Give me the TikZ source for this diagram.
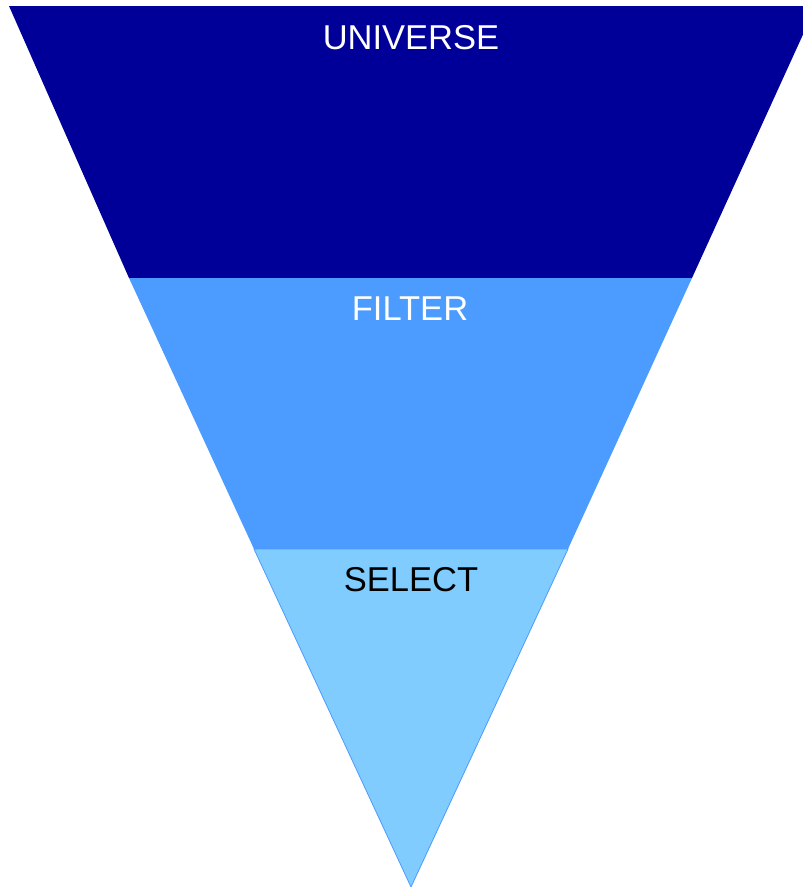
\documentclass[tikz,border=0pt]{standalone}
\usepackage{fontspec}
\setmainfont{Liberation Sans}
\definecolor{dark}{HTML}{000099}
\definecolor{mid}{HTML}{4C9BFF}
\definecolor{light}{HTML}{80CCFF}
\begin{document}
\begin{tikzpicture}[x=1pt,y=-1pt,
  lab/.style={font=\fontsize{34.5}{38}\selectfont, anchor=center, inner sep=0pt}]
\useasboundingbox (0,0) rectangle (803,887);
\begin{scope}
\clip (0,0) rectangle (803,887);
\fill[dark] (9,6) -- (816,6) -- (692,278) -- (129,278) -- cycle;
\fill[mid] (129,278) -- (692,278) -- (568,549) -- (254,549) -- cycle;
\fill[light, draw=mid, line width=0.8pt] (254,549) -- (568,549) -- (411,887) -- cycle;
\end{scope}
\node[lab, text=white] (u) at (411,38) {UNIVERSE};
\node[lab, text=white] (f) at (410,309) {FILTER};
\node[lab, text=black] (s) at (411,580) {SELECT};
\end{tikzpicture}
\end{document}
